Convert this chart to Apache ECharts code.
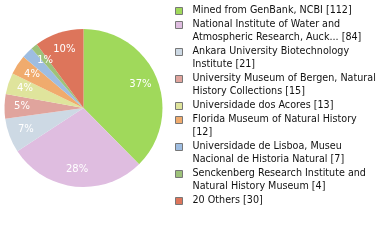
<!DOCTYPE html>
<html><head><meta charset="utf-8">
<script src="https://cdn.jsdelivr.net/npm/echarts@6/dist/echarts.min.js"></script>
<style>html,body{margin:0;padding:0;background:#fff}#c{width:380px;height:240px}</style>
</head><body><div id="c"></div>
<script>
const categories = [
  "Mined from GenBank, NCBI",
  "National Institute of Water and\nAtmospheric Research, Auck...",
  "Ankara University Biotechnology\nInstitute",
  "University Museum of Bergen, Natural\nHistory Collections",
  "Universidade dos Acores",
  "Florida Museum of Natural History\n",
  "Universidade de Lisboa, Museu\nNacional de Historia Natural",
  "Senckenberg Research Institute and\nNatural History Museum",
  "20 Others"
];
const values = [112, 84, 21, 15, 13, 12, 7, 4, 30];
const colors = ["#a0d95b", "#dfbde0", "#cdd9e4", "#e0a49d", "#dfe49c", "#f0ab6d", "#9ebde1", "#9dc27a", "#dd755b"];

const total = values.reduce((a, b) => a + b, 0);
const chart = echarts.init(document.getElementById('c'), null, {renderer: 'canvas'});

const font = 'DejaVu Sans';
const lineH = 13;
const legendEls = [];
let y = 10.5;
categories.forEach((c, i) => {
  const text = c.endsWith('\n') ? c + '[' + values[i] + ']' : c + ' [' + values[i] + ']';
  const lines = text.split('\n').length;
  legendEls.push({
    type: 'rect', shape: {x: 175.5, y: Math.round(y) - 3.5, width: 7, height: 7},
    style: {fill: colors[i], stroke: '#777', lineWidth: 1}
  });
  legendEls.push({
    type: 'text', x: 192.5, y: y - lineH / 2,
    style: {text: text, font: '9.6px "' + font + '"', fill: '#111', lineHeight: lineH, verticalAlign: 'top'}
  });
  y += lines * lineH + 1;
});

const data = categories.map((c, i) => ({name: c, value: values[i], itemStyle: {color: colors[i]}}));

chart.setOption({
  animation: false,
  graphic: legendEls,
  series: [
    {
      type: 'pie', center: [83.5, 108], radius: [0, 79], startAngle: 90, clockwise: true,
      label: {show: false}, labelLine: {show: false}, silent: true,
      itemStyle: {borderWidth: 0},
      data: data
    },
    {
      type: 'pie', center: [83.5, 108], radius: [38, 79], startAngle: 90, clockwise: true,
      silent: true, itemStyle: {color: 'rgba(0,0,0,0)', borderWidth: 0},
      label: {show: true, position: 'inside', color: '#fff', fontFamily: font, fontSize: 10,
        formatter: p => Math.floor(p.value / total * 100) + '%'},
      labelLine: {show: false},
      data: values.map((v, i) => ({name: categories[i], value: v}))
    }
  ]
});
</script></body></html>
